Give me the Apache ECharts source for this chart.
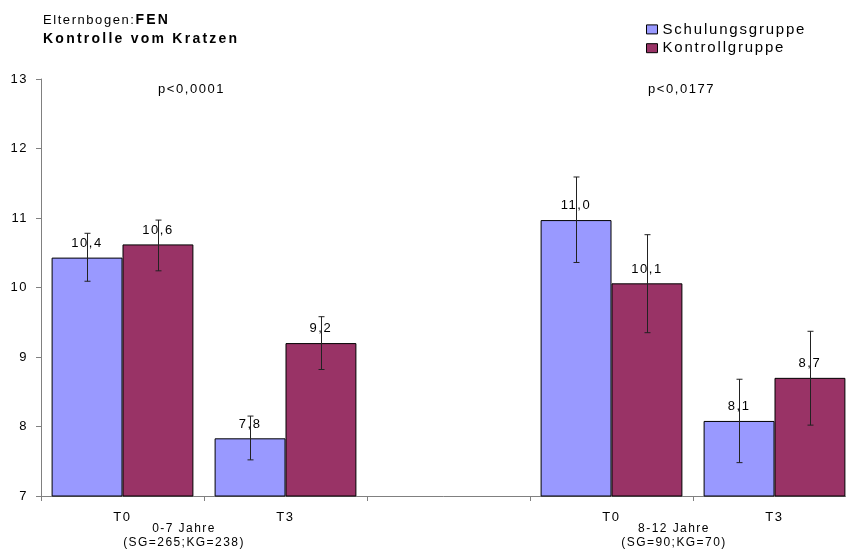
<!DOCTYPE html>
<html>
<head>
<meta charset="utf-8">
<script src="https://cdn.jsdelivr.net/npm/echarts@6/dist/echarts.min.js"></script>
<style>html,body{margin:0;padding:0;background:#fff}#c{width:846px;height:552px}</style>
</head>
<body>
<div id="c"></div>
<script>
var categories = ['T0', 'T3', '', 'T0', 'T3'];
var seriesNames = ['Schulungsgruppe', 'Kontrollgruppe'];
var schulung = [10.43, 7.83, null, 10.97, 8.08];
var kontroll = [10.62, 9.20, null, 10.06, 8.70];
var schulungLow = [10.09, 7.52, null, 10.36, 7.48];
var schulungHigh = [10.78, 8.15, null, 11.59, 8.68];
var kontrollLow = [10.24, 8.82, null, 9.35, 8.02];
var kontrollHigh = [10.97, 9.58, null, 10.76, 9.37];
var yTicks = [7, 8, 9, 10, 11, 12, 13];
var pLabels = ['p<0,0001', 'p<0,0177'];
var groupLabels = ['0-7 Jahre\n(SG=265;KG=238)', '8-12 Jahre\n(SG=90;KG=70)'];

var FONT = 'Liberation Sans, Arial, sans-serif';
var gapPct = 13;

// wide letter spacing like the original chart (applied to every 2D context whenever a font is set)
(function () {
  try {
    var proto = CanvasRenderingContext2D.prototype;
    var desc = Object.getOwnPropertyDescriptor(proto, 'font');
    if (desc && 'letterSpacing' in proto) {
      Object.defineProperty(proto, 'font', {
        configurable: true,
        get: desc.get,
        set: function (v) {
          desc.set.call(this, v);
          var m = /(\d+(?:\.\d+)?)px/.exec(v || '');
          var size = m ? parseFloat(m[1]) : 12;
          var bold = /bold|[6-9]00/.test(v || '');
          this.letterSpacing = (size * (bold ? 0.16 : 0.12)).toFixed(2) + 'px';
        }
      });
    }
  } catch (e) {}
})();

function errData(lows, highs, sIdx) {
  var out = [];
  for (var i = 0; i < lows.length; i++) {
    if (lows[i] != null) out.push([i, lows[i], highs[i], sIdx]);
  }
  return out;
}

function renderErr(params, api) {
  var cat = api.value(0);
  var lo = api.coord([cat, api.value(1)]);
  var hi = api.coord([cat, api.value(2)]);
  var bandW = api.size([1, 0])[0];
  var barW = bandW * (1 - gapPct / 100) / 2;
  var off = api.value(3) === 0 ? -barW / 2 : barW / 2;
  var x = Math.round(lo[0] + off) + 0.5;
  var cap = 3;
  var style = { stroke: '#222', lineWidth: 1 };
  return {
    type: 'group',
    children: [
      { type: 'line', shape: { x1: x, y1: hi[1], x2: x, y2: lo[1] }, style: style },
      { type: 'line', shape: { x1: x - cap, y1: hi[1], x2: x + cap, y2: hi[1] }, style: style },
      { type: 'line', shape: { x1: x - cap, y1: lo[1], x2: x + cap, y2: lo[1] }, style: style }
    ]
  };
}

var labelFmt = function (p) { return p.value == null ? '' : p.value.toFixed(1).replace('.', ','); };

var chart = echarts.init(document.getElementById('c'), null, { renderer: 'canvas' });

chart.setOption({
  animation: false,
  backgroundColor: '#fff',
  textStyle: { fontFamily: FONT },
  title: {
    left: 38, top: 6,
    text: '{a|Elternbogen:}{b|FEN}\n{c|Kontrolle vom Kratzen}',
    textStyle: {
      fontWeight: 'normal',
      rich: {
        a: { fontSize: 13, fontWeight: 'normal', fontFamily: FONT, color: '#000', lineHeight: 19 },
        b: { fontSize: 14, fontWeight: 'bold', fontFamily: FONT, color: '#000', lineHeight: 19 },
        c: { fontSize: 14, fontWeight: 'bold', fontFamily: FONT, color: '#000', lineHeight: 19 }
      }
    }
  },
  legend: {
    data: seriesNames,
    orient: 'vertical',
    left: 641, top: 16,
    itemWidth: 11, itemHeight: 9,
    itemGap: 2,
    icon: 'rect',
    itemStyle: { borderColor: '#000', borderWidth: 1 },
    textStyle: { fontSize: 15, color: '#000', fontFamily: FONT }
  },
  grid: { left: 41, top: 79, width: 815, height: 417, containLabel: false, outerBoundsMode: 'none' },
  xAxis: {
    type: 'category',
    data: categories,
    axisLine: { lineStyle: { color: '#808080', width: 1 } },
    axisTick: { show: true, length: 5, lineStyle: { color: '#808080' } },
    axisLabel: { fontSize: 13, color: '#000', margin: 14, fontFamily: FONT }
  },
  yAxis: {
    type: 'value',
    min: yTicks[0], max: yTicks[yTicks.length - 1], interval: 1,
    splitLine: { show: false },
    axisLine: { show: true, lineStyle: { color: '#808080', width: 1 } },
    axisTick: { show: true, length: 5, lineStyle: { color: '#808080' } },
    axisLabel: { fontSize: 13, color: '#000', margin: 13, fontFamily: FONT }
  },
  series: [
    {
      name: seriesNames[0], type: 'bar', data: schulung,
      barGap: '0%', barCategoryGap: gapPct + '%',
      itemStyle: { color: '#9999FF', borderColor: '#000', borderWidth: 1 },
      label: { show: true, position: 'top', distance: 7, fontSize: 13, color: '#000', fontFamily: FONT, formatter: labelFmt }
    },
    {
      name: seriesNames[1], type: 'bar', data: kontroll,
      barGap: '0%', barCategoryGap: gapPct + '%',
      itemStyle: { color: '#993366', borderColor: '#000', borderWidth: 1 },
      label: { show: true, position: 'top', distance: 7, fontSize: 13, color: '#000', fontFamily: FONT, formatter: labelFmt }
    },
    {
      name: 'errS', type: 'custom', renderItem: renderErr, z: 10,
      data: errData(schulungLow, schulungHigh, 0), encode: { x: 0, y: [1, 2] }, silent: true
    },
    {
      name: 'errK', type: 'custom', renderItem: renderErr, z: 10,
      data: errData(kontrollLow, kontrollHigh, 1), encode: { x: 0, y: [1, 2] }, silent: true
    }
  ],
  graphic: [
    { type: 'text', left: 158, top: 82, style: { text: pLabels[0], font: '13px ' + FONT, fill: '#000' } },
    { type: 'text', left: 648, top: 82, style: { text: pLabels[1], font: '13px ' + FONT, fill: '#000' } },
    { type: 'text', x: 184, y: 522, style: { text: groupLabels[0], align: 'center', font: '12px ' + FONT, fill: '#000', lineHeight: 14 } },
    { type: 'text', x: 674, y: 522, style: { text: groupLabels[1], align: 'center', font: '12px ' + FONT, fill: '#000', lineHeight: 14 } }
  ]
});
</script>
</body>
</html>
